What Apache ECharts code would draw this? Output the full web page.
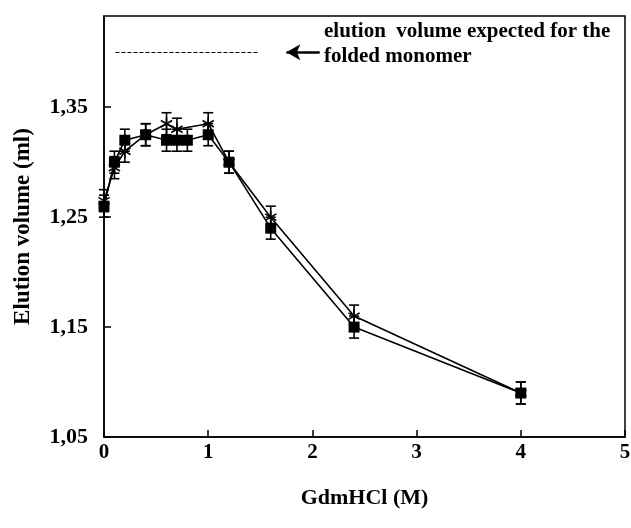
<!DOCTYPE html>
<html>
<head>
<meta charset="utf-8">
<script src="https://cdn.jsdelivr.net/npm/echarts@6/dist/echarts.min.js"></script>
<style>
  html, body { margin: 0; padding: 0; background: #fff; }
  #chart { width: 631px; height: 528px; }
</style>
</head>
<body>
<div id="chart"></div>
<script>
// GdmHCl concentration (M)
const gdmSquare = [0, 0.1, 0.2, 0.4, 0.6, 0.7, 0.8, 1.0, 1.2, 1.6, 2.4, 4.0];
const volSquare = [1.26, 1.30, 1.32, 1.325, 1.32, 1.32, 1.32, 1.325, 1.30, 1.24, 1.15, 1.09];
const errSquare = [0.01, 0.01, 0.01, 0.01, 0.01, 0.01, 0.01, 0.01, 0.01, 0.01, 0.01, 0.01];

const gdmStar = [0, 0.1, 0.2, 0.4, 0.6, 0.7, 1.0, 1.2, 1.6, 2.4, 4.0];
const volStar = [1.265, 1.295, 1.31, 1.325, 1.335, 1.33, 1.335, 1.30, 1.25, 1.16, 1.09];
const errStar = [0.01, 0.01, 0.01, 0.01, 0.01, 0.01, 0.01, 0.01, 0.01, 0.01, 0.01];

const yTickValues = [1.05, 1.15, 1.25, 1.35];
const xTickValues = [0, 1, 2, 3, 4, 5];

// expected elution volume of the folded monomer
const monomerVolume = 1.40;
const monomerLineX = [0.11, 1.48];
const arrowX = [2.07, 1.75];

const FONT = '"Liberation Serif", "Times New Roman", serif';

const zip = (xs, ys) => xs.map((x, i) => [x, ys[i]]);
const zip3 = (xs, ys, es) => xs.map((x, i) => [x, ys[i], es[i]]);

function errorBarItem(params, api) {
  const x = api.value(0), y = api.value(1), e = api.value(2);
  const top = api.coord([x, y + e]);
  const bot = api.coord([x, y - e]);
  const half = 5;
  const style = { stroke: '#000', lineWidth: 1.6 };
  return {
    type: 'group',
    children: [
      { type: 'line', shape: { x1: top[0], y1: top[1], x2: bot[0], y2: bot[1] }, style },
      { type: 'line', shape: { x1: top[0] - half, y1: top[1], x2: top[0] + half, y2: top[1] }, style },
      { type: 'line', shape: { x1: bot[0] - half, y1: bot[1], x2: bot[0] + half, y2: bot[1] }, style }
    ]
  };
}

function asteriskItem(params, api) {
  const c = api.coord([api.value(0), api.value(1)]);
  const r = 6.5;
  const style = { stroke: '#000', lineWidth: 1.6 };
  const children = [];
  for (let k = 0; k < 3; k++) {
    const a = Math.PI / 2 + k * Math.PI / 3;
    const dx = r * Math.cos(a), dy = r * Math.sin(a);
    children.push({ type: 'line', shape: { x1: c[0] - dx, y1: c[1] - dy, x2: c[0] + dx, y2: c[1] + dy }, style });
  }
  return { type: 'group', children };
}

const chart = echarts.init(document.getElementById('chart'), null, { renderer: 'canvas' });

chart.setOption({
  animation: false,
  backgroundColor: '#fff',
  grid: {
    left: 104, right: 6, top: 16, bottom: 91,
    containLabel: false, outerBoundsMode: 'none',
    show: true, borderColor: '#000', borderWidth: 1.5, backgroundColor: 'transparent'
  },
  xAxis: {
    type: 'value', min: 0, max: 5, interval: 1,
    name: 'GdmHCl (M)', nameLocation: 'middle', nameGap: 50,
    nameTextStyle: { fontFamily: FONT, fontWeight: 'bold', fontSize: 22, color: '#000' },
    axisLine: { show: true, lineStyle: { color: '#000', width: 1.5 } },
    axisTick: { show: true, inside: true, length: 7, lineStyle: { color: '#000', width: 1.5 } },
    axisLabel: {
      customValues: xTickValues,
      fontFamily: FONT, fontWeight: 'bold', fontSize: 21, color: '#000', margin: 5,
      formatter: v => String(v)
    },
    splitLine: { show: false }
  },
  yAxis: {
    type: 'value', min: 1.05, max: 1.433,
    name: 'Elution volume (ml)', nameLocation: 'middle', nameGap: 69, nameRotate: 90,
    nameTextStyle: { fontFamily: FONT, fontWeight: 'bold', fontSize: 23, color: '#000' },
    axisLine: { show: true, lineStyle: { color: '#000', width: 1.5 } },
    axisTick: { show: true, inside: true, length: 7, customValues: yTickValues, lineStyle: { color: '#000', width: 1.5 } },
    axisLabel: {
      customValues: yTickValues,
      fontFamily: FONT, fontWeight: 'bold', fontSize: 22, color: '#000', margin: 16,
      formatter: v => v.toFixed(2).replace('.', ',')
    },
    splitLine: { show: false }
  },
  graphic: [
    {
      type: 'text', left: 324, top: 19,
      style: {
        text: 'elution  volume expected for the\nfolded monomer',
        font: 'bold 21px ' + FONT, fill: '#000', lineHeight: 25
      }
    }
  ],
  series: [
    {
      type: 'custom', name: 'errSquare', renderItem: errorBarItem,
      data: zip3(gdmSquare, volSquare, errSquare), z: 2, silent: true
    },
    {
      type: 'custom', name: 'errStar', renderItem: errorBarItem,
      data: zip3(gdmStar, volStar, errStar), z: 2, silent: true
    },
    {
      type: 'line', name: 'star', data: zip(gdmStar, volStar),
      showSymbol: false, symbol: 'none',
      lineStyle: { color: '#000', width: 1.6 }, z: 3,
      markLine: {
        silent: true, symbol: ['none', 'none'], label: { show: false },
        data: [
          [
            { coord: [monomerLineX[0], monomerVolume], lineStyle: { type: [4, 2], width: 1, color: '#000' } },
            { coord: [monomerLineX[1], monomerVolume] }
          ],
          [
            { coord: [arrowX[0], monomerVolume], symbol: 'none', lineStyle: { type: 'solid', width: 2.5, color: '#000' } },
            { coord: [arrowX[1], monomerVolume], symbol: 'arrow', symbolSize: [12, 14] }
          ]
        ]
      }
    },
    {
      type: 'line', name: 'square', data: zip(gdmSquare, volSquare),
      symbol: 'rect', symbolSize: 11, showSymbol: true,
      itemStyle: { color: '#000' },
      lineStyle: { color: '#000', width: 1.6 }, z: 4
    },
    {
      type: 'custom', name: 'starMarks', renderItem: asteriskItem,
      data: zip(gdmStar, volStar), z: 5, silent: true
    }
  ]
});
</script>
</body>
</html>
